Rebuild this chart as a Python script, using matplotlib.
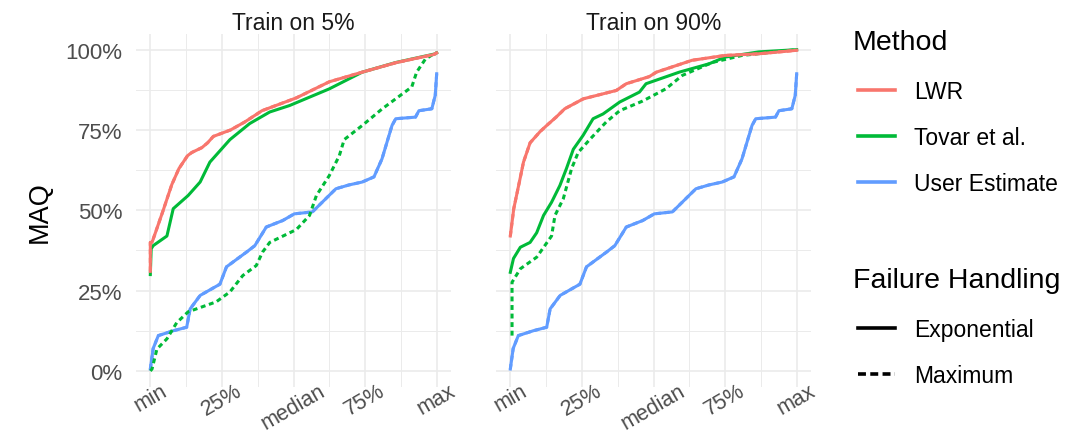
import matplotlib
matplotlib.use("Agg")
import matplotlib.pyplot as plt
from matplotlib.lines import Line2D
import numpy as np

plt.rcParams['font.family'] = ['Liberation Sans', 'DejaVu Sans']

# ---------------- data ----------------
facets = ["Train on 5%", "Train on 90%"]
x_tick_pos = [0, 0.25, 0.5, 0.75, 1.0]
x_tick_labels = ["min", "25%", "median", "75%", "max"]
y_tick_pos = [0, 25, 50, 75, 100]
y_tick_labels = ["0%", "25%", "50%", "75%", "100%"]

methods = ["LWR", "Tovar et al.", "User Estimate"]
method_colors = ["#F8766D", "#00BA38", "#619CFF"]
failure = ["Exponential", "Maximum"]

# User estimate (same in both facets)
user_x = [0, 0.01, 0.028, 0.08, 0.127, 0.139, 0.174, 0.243, 0.266, 0.336, 0.365,
          0.405, 0.462, 0.503, 0.566, 0.648, 0.694, 0.74, 0.781, 0.809, 0.844,
          0.857, 0.926, 0.938, 0.983, 0.995, 1.0]
user_y = [0.6, 7, 11, 12.5, 13.6, 19.3, 23.5, 27, 32.4, 37, 39,
          44.8, 46.8, 48.9, 49.5, 56.7, 57.9, 58.8, 60.4, 66, 76.4,
          78.5, 79, 81, 81.6, 85.8, 92.5]

# Train on 5%
lwr5_x = [0, 0, 0.006, 0.045, 0.075, 0.10, 0.13, 0.145, 0.18, 0.2, 0.22, 0.28,
          0.33, 0.39, 0.51, 0.625, 0.74, 0.86, 0.99, 1.0]
lwr5_y = [31, 40, 40, 50, 58, 63, 67, 68, 69.5, 71, 73, 75, 77.5, 81, 85, 90,
          93, 96, 98.5, 99]

tov5_exp_x = [0, 0.003, 0.01, 0.058, 0.08, 0.132, 0.174, 0.208, 0.278, 0.347,
              0.417, 0.486, 0.625, 0.74, 0.857, 0.995, 1.0]
tov5_exp_y = [30, 38, 39, 42, 50.5, 54.6, 58.8, 65, 72, 77, 80.6, 82.6, 87.8,
              93, 96, 98.7, 99]

tov5_max_x = [0, 0.006, 0.023, 0.058, 0.092, 0.132, 0.23, 0.278, 0.323, 0.37,
              0.392, 0.417, 0.51, 0.556, 0.58, 0.625, 0.66, 0.677, 0.74, 0.81,
              0.913, 0.93, 0.96, 0.995, 1.0]
tov5_max_y = [0, 0.6, 6.8, 10, 15, 18.4, 21.5, 24.6, 29.7, 32.8, 37, 40, 44,
              48.4, 54.6, 60.8, 67, 72, 76.4, 81.6, 88.4, 93, 97, 99, 99]

# Train on 90%
lwr90_x = [0, 0.012, 0.029, 0.046, 0.069, 0.104, 0.127, 0.16, 0.19, 0.255, 0.37,
           0.405, 0.485, 0.51, 0.635, 0.75, 0.865, 1.0]
lwr90_y = [42, 50.5, 57.7, 65, 71, 74.5, 76.4, 79, 81.6, 84.7, 87.3, 89.4, 91.6,
           93, 96.7, 98.2, 98.7, 99.8]

tov90_exp_x = [0, 0.011, 0.035, 0.069, 0.092, 0.116, 0.144, 0.173, 0.196, 0.22,
               0.254, 0.289, 0.324, 0.382, 0.451, 0.474, 0.59, 0.694, 0.751,
               0.867, 1.0]
tov90_exp_y = [30.7, 35, 38.5, 40, 43, 48.4, 52.5, 57.7, 63, 69, 73.3, 78.5, 80,
               83.7, 86.8, 89.4, 93, 95.6, 97.7, 99.3, 100]

tov90_max_x = [0.006, 0.006, 0.035, 0.092, 0.144, 0.156, 0.185, 0.214, 0.237,
               0.277, 0.335, 0.382, 0.462, 0.543, 0.601, 0.705, 0.809, 1.0]
tov90_max_y = [11, 27.6, 31.8, 35.4, 42, 48.4, 53.6, 63, 68, 72, 77.5, 81, 84,
               87.8, 92, 96, 98.2, 100]

panels = [
    {"lwr": (lwr5_x, lwr5_y), "tov_exp": (tov5_exp_x, tov5_exp_y),
     "tov_max": (tov5_max_x, tov5_max_y), "user": (user_x, user_y)},
    {"lwr": (lwr90_x, lwr90_y), "tov_exp": (tov90_exp_x, tov90_exp_y),
     "tov_max": (tov90_max_x, tov90_max_y), "user": (user_x, user_y)},
]

# ---------------- figure ----------------
W, H = 1081, 435
fig = plt.figure(figsize=(W / 100, H / 100), dpi=100)

grid_col = "#EBEBEB"
lw = 2.2
dash = (0, (1.6, 1.2))

lefts = [136, 496]
ax_w = 315
ax_top, ax_bot = 34.6, 388

for i, (title, p) in enumerate(zip(facets, panels)):
    ax = fig.add_axes([lefts[i] / W, (H - ax_bot) / H, ax_w / W, (ax_bot - ax_top) / H])
    ax.set_xlim(-0.05, 1.05)
    ax.set_ylim(-5, 105)
    for s in ax.spines.values():
        s.set_visible(False)
    ax.set_xticks(x_tick_pos)
    ax.set_xticks([0.125, 0.375, 0.625, 0.875], minor=True)
    ax.set_yticks(y_tick_pos)
    ax.set_yticks([12.5, 37.5, 62.5, 87.5], minor=True)
    ax.grid(which="major", color=grid_col, linewidth=1.2)
    ax.grid(which="minor", color=grid_col, linewidth=0.7)
    ax.set_axisbelow(True)
    ax.tick_params(which="both", length=0)
    ax.set_xticklabels(x_tick_labels, rotation=30, ha="center", va="top",
                       fontsize=15.5, color="#4D4D4D")
    ax.tick_params(axis="x", pad=-5)
    if i == 0:
        ax.set_yticklabels(y_tick_labels, fontsize=16, color="#4D4D4D")
        ax.tick_params(axis="y", pad=10)
    else:
        ax.set_yticklabels([])
    ax.set_title(title, fontsize=16.5, color="#1A1A1A", pad=2)

    ux, uy = p["user"]
    ax.plot(ux, uy, color=method_colors[2], lw=lw, ls=dash)
    ax.plot(ux, uy, color=method_colors[2], lw=lw)
    tx, ty = p["tov_max"]
    ax.plot(tx, ty, color=method_colors[1], lw=lw, ls=dash)
    tx, ty = p["tov_exp"]
    ax.plot(tx, ty, color=method_colors[1], lw=lw)
    lx, ly = p["lwr"]
    ax.plot(lx, ly, color=method_colors[0], lw=lw, ls=dash)
    ax.plot(lx, ly, color=method_colors[0], lw=lw)

# y label
fig.text(40 / W, 1 - 212 / H, "MAQ", rotation=90, fontsize=19.5,
         ha="center", va="center", color="black")

# legend (manual)
def fy(y):
    return 1 - y / H

lx0, lx1, tx = 858 / W, 895 / W, 914 / W
fig.text(853 / W, fy(50), "Method", fontsize=20.5, va="baseline", ha="left")
for name, col, ly, by in zip(methods, method_colors, [90.7, 136.7, 182.7],
                              [99.3, 145, 190.7]):
    fig.add_artist(Line2D([lx0, lx1], [fy(ly), fy(ly)], color=col, lw=2.6,
                          transform=fig.transFigure))
    fig.text(tx, fy(by), name, fontsize=16.5, va="baseline", ha="left")

fig.text(853 / W, fy(288.3), "Failure Handling", fontsize=20.5, va="baseline", ha="left")
for name, ls, ly, by in zip(failure, ["-", (0, (2.2, 1.2))], [329.3, 375],
                            [337.3, 382.7]):
    fig.add_artist(Line2D([lx0, lx1], [fy(ly), fy(ly)], color="black", lw=2.6,
                          ls=ls, transform=fig.transFigure))
    fig.text(tx, fy(by), name, fontsize=16.5, va="baseline", ha="left")

fig.savefig("out.png", dpi=100, facecolor="white")
